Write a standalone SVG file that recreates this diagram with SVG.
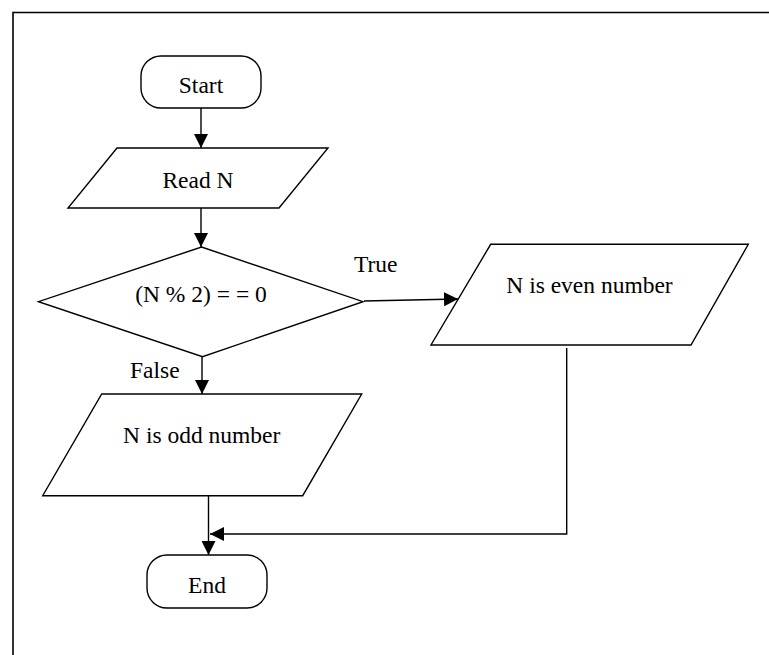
<svg xmlns="http://www.w3.org/2000/svg" width="769" height="655" viewBox="0 0 769 655">
<style>
.s{fill:#fff;stroke:#000;stroke-width:1.4}
.c{fill:none;stroke:#000;stroke-width:1.4}
.t{font-family:"Liberation Serif","Times New Roman",serif;font-size:23.5px;fill:#000}
.m{text-anchor:middle}
</style>
<defs>
<marker id="ah" markerUnits="userSpaceOnUse" markerWidth="14" markerHeight="14" refX="14" refY="7" orient="auto">
<path d="M0,0 L14,7 L0,14 Z" fill="#000"/>
</marker>
</defs>
<rect width="769" height="655" fill="#fff"/>
<path d="M13,655 L13,12.5 L769,12.5" fill="none" stroke="#000" stroke-width="1.6"/>
<g id="connectors">
<line class="c" x1="201" y1="108" x2="201" y2="148" marker-end="url(#ah)"/>
<line class="c" x1="201" y1="208" x2="201" y2="247" marker-end="url(#ah)"/>
<line class="c" x1="202" y1="357" x2="202" y2="394" marker-end="url(#ah)"/>
<line class="c" x1="364" y1="301" x2="458" y2="299" marker-end="url(#ah)"/>
<line class="c" x1="208.5" y1="496" x2="208.5" y2="555" marker-end="url(#ah)"/>
<polyline class="c" points="566.7,348 566.7,534 210,534" marker-end="url(#ah)"/>
<text class="t" x="354" y="272">True</text>
<text class="t" x="130" y="378">False</text>
</g>
<g id="start">
<rect class="s" x="141" y="56" width="120" height="52" rx="20" ry="20"/>
<text class="t m" x="201" y="93">Start</text>
</g>
<g id="read">
<polygon class="s" points="117,148 328,148 279,208 68,208"/>
<text class="t m" x="198" y="188">Read N</text>
</g>
<g id="decision">
<polygon class="s" points="201.5,247 363,301.7 202.5,356.7 38.5,301.7"/>
<text class="t m" x="201" y="302">(N % 2) = = 0</text>
</g>
<g id="even">
<polygon class="s" points="490.7,244.3 748.3,244.3 691,345 431,345"/>
<text class="t m" x="589.5" y="293">N is even number</text>
</g>
<g id="odd">
<polygon class="s" points="101.7,394 361.7,394 302.7,495.7 42.7,495.7"/>
<text class="t m" x="201.7" y="443">N is odd number</text>
</g>
<g id="end">
<rect class="s" x="147" y="555" width="120" height="53" rx="20" ry="20"/>
<text class="t m" x="207" y="593">End</text>
</g>
</svg>
